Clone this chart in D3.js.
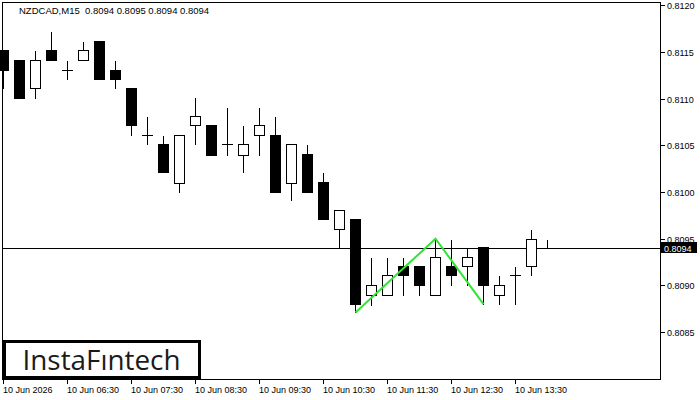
<!DOCTYPE html>
<html>
<head>
<meta charset="utf-8">
<script src="https://cdn.jsdelivr.net/npm/d3@7/dist/d3.min.js"></script>
<style>
  html, body { margin: 0; padding: 0; background: #fff; }
  svg { display: block; }
</style>
</head>
<body>
<svg id="chart" width="700" height="400"></svg>
<script>
// ---- data ----
const symbolTitle = "NZDCAD,M15  0.8094 0.8095 0.8094 0.8094";
const opens  = [0.81152,0.81141,0.81111,0.81152,0.81131,0.81141,0.81162,0.81131,0.81111,0.81061,
                0.81051,0.81010,0.81072,0.81072,0.81051,0.81040,0.81061,0.81061,0.81010,0.81041,
                0.81011,0.80960,0.80971,0.80890,0.80890,0.80921,0.80921,0.80890,0.80921,0.80921,
                0.80941,0.80890,0.80911,0.80921,0.80940];
const highs  = [0.81152,0.81141,0.81152,0.81172,0.81141,0.81162,0.81162,0.81141,0.81111,0.81081,
                0.81061,0.81061,0.81102,0.81072,0.81091,0.81072,0.81091,0.81081,0.81051,0.81051,
                0.81021,0.80981,0.80971,0.80930,0.80930,0.80930,0.80921,0.80950,0.80950,0.80941,
                0.80941,0.80911,0.80921,0.80960,0.80950];
const lows   = [0.81111,0.81101,0.81101,0.81141,0.81121,0.81141,0.81121,0.81111,0.81061,0.81051,
                0.81021,0.81000,0.81051,0.81040,0.81040,0.81021,0.81040,0.81000,0.80991,0.81000,
                0.80971,0.80941,0.80871,0.80879,0.80890,0.80890,0.80890,0.80890,0.80900,0.80900,
                0.80880,0.80880,0.80880,0.80911,0.80940];
const closes = [0.81131,0.81101,0.81141,0.81141,0.81131,0.81152,0.81121,0.81121,0.81072,0.81061,
                0.81021,0.81061,0.81081,0.81040,0.81051,0.81051,0.81072,0.81000,0.81051,0.81000,
                0.80971,0.80981,0.80880,0.80900,0.80911,0.80911,0.80900,0.80930,0.80911,0.80930,
                0.80900,0.80900,0.80911,0.80950,0.80940];
const xTickIndex  = [0, 4, 8, 12, 16, 20, 24, 28, 32];
const xTickLabels = ["10 Jun 2026","10 Jun 06:30","10 Jun 07:30","10 Jun 08:30","10 Jun 09:30",
                     "10 Jun 10:30","10 Jun 11:30","10 Jun 12:30","10 Jun 13:30"];
const yTickValues = [0.8085,0.8090,0.8095,0.8100,0.8105,0.8110,0.8115,0.8120];
const currentPrice = 0.8094;
const patternIndex = [22, 27, 30];
const patternPrice = [0.80871, 0.80950, 0.80880];
const logoText = "InstaF\u0131ntech";

// ---- scales ----
const svg = d3.select("#chart");
const plotL = 2.5, plotR = 660.5, plotT = 2.5, plotB = 379.5;
const x = d3.scaleLinear().domain([0, 41]).range([3.5, 659.5]);
const y = d3.scaleLinear().domain([0.8080, 0.8120]).range([378.8, 5.2]);
const font = "'Liberation Sans', Arial, sans-serif";

svg.append("rect").attr("width", 700).attr("height", 400).attr("fill", "#fff");

// current price line
svg.append("line")
  .attr("x1", plotL).attr("x2", plotR)
  .attr("y1", Math.round(y(currentPrice)) + 0.5).attr("y2", Math.round(y(currentPrice)) + 0.5)
  .attr("stroke", "#000").attr("stroke-width", 1);

// candles
const data = opens.map((o, i) => ({i, o, h: highs[i], l: lows[i], c: closes[i]}));
const py = v => Math.round(y(v)) + 0.5;
const g = svg.append("g").attr("shape-rendering", "crispEdges");
data.forEach(d => {
  const cx = x(d.i);
  const bTop = Math.min(py(d.o), py(d.c)), bBot = Math.max(py(d.o), py(d.c));
  g.append("line").attr("x1", cx).attr("x2", cx)
    .attr("y1", py(d.h)).attr("y2", py(d.l)).attr("stroke", "#000");
  if (bBot - bTop < 1) {
    g.append("line").attr("x1", cx - 5.5).attr("x2", cx + 5.5)
      .attr("y1", bTop).attr("y2", bTop).attr("stroke", "#000");
  } else {
    g.append("rect").attr("x", cx - 5).attr("width", 10)
      .attr("y", bTop).attr("height", bBot - bTop)
      .attr("fill", d.c < d.o ? "#000" : "#fff").attr("stroke", "#000");
  }
});

// pattern line
svg.append("path")
  .datum(patternIndex.map((k, j) => [x(k), y(patternPrice[j])]))
  .attr("d", d3.line())
  .attr("fill", "none").attr("stroke", "#2fe62f").attr("stroke-width", 2);

// frame
svg.append("rect").attr("x", plotL).attr("y", plotT)
  .attr("width", plotR - plotL).attr("height", plotB - plotT)
  .attr("fill", "none").attr("stroke", "#000").attr("shape-rendering", "crispEdges");

// y axis
const yAxis = svg.append("g");
yTickValues.forEach(v => {
  const yy = Math.round(y(v)) + 0.5;
  yAxis.append("line").attr("x1", plotR).attr("x2", plotR + 4).attr("y1", yy).attr("y2", yy)
    .attr("stroke", "#000").attr("shape-rendering", "crispEdges");
  yAxis.append("text").attr("x", 667).attr("y", yy + 3.5)
    .attr("font-family", font).attr("font-size", 9).attr("fill", "#000")
    .text(d3.format(".4f")(v));
});

// x axis
const xAxis = svg.append("g");
xTickIndex.forEach((k, j) => {
  const xx = x(k);
  xAxis.append("line").attr("x1", xx).attr("x2", xx).attr("y1", plotB).attr("y2", plotB + 4)
    .attr("stroke", "#000").attr("shape-rendering", "crispEdges");
  xAxis.append("text").attr("x", xx - 0.5).attr("y", 393)
    .attr("font-family", font).attr("font-size", 9).attr("fill", "#000")
    .text(xTickLabels[j]);
});

// current price box
const cpY = Math.round(y(currentPrice));
svg.append("rect").attr("x", 661).attr("y", cpY - 6).attr("width", 36).attr("height", 11).attr("fill", "#000");
svg.append("text").attr("x", 664).attr("y", cpY + 3.5)
  .attr("font-family", font).attr("font-size", 9).attr("fill", "#fff")
  .text(d3.format(".4f")(currentPrice));

// title
svg.append("text").attr("x", 19).attr("y", 14)
  .attr("font-family", font).attr("font-size", 9.5).attr("fill", "#000")
  .attr("xml:space", "preserve").style("white-space", "pre")
  .text(symbolTitle);

// logo
svg.append("rect").attr("x", 4.5).attr("y", 341.5).attr("width", 195).attr("height", 36)
  .attr("fill", "#fff").attr("stroke", "#000").attr("stroke-width", 3);
svg.append("text").attr("x", 22.5).attr("y", 369.5)
  .attr("font-family", "'Open Sans', sans-serif").attr("font-size", 28).attr("fill", "#1a1a1a")
  .attr("textLength", 158).attr("lengthAdjust", "spacingAndGlyphs")
  .text(logoText);
</script>
</body>
</html>
